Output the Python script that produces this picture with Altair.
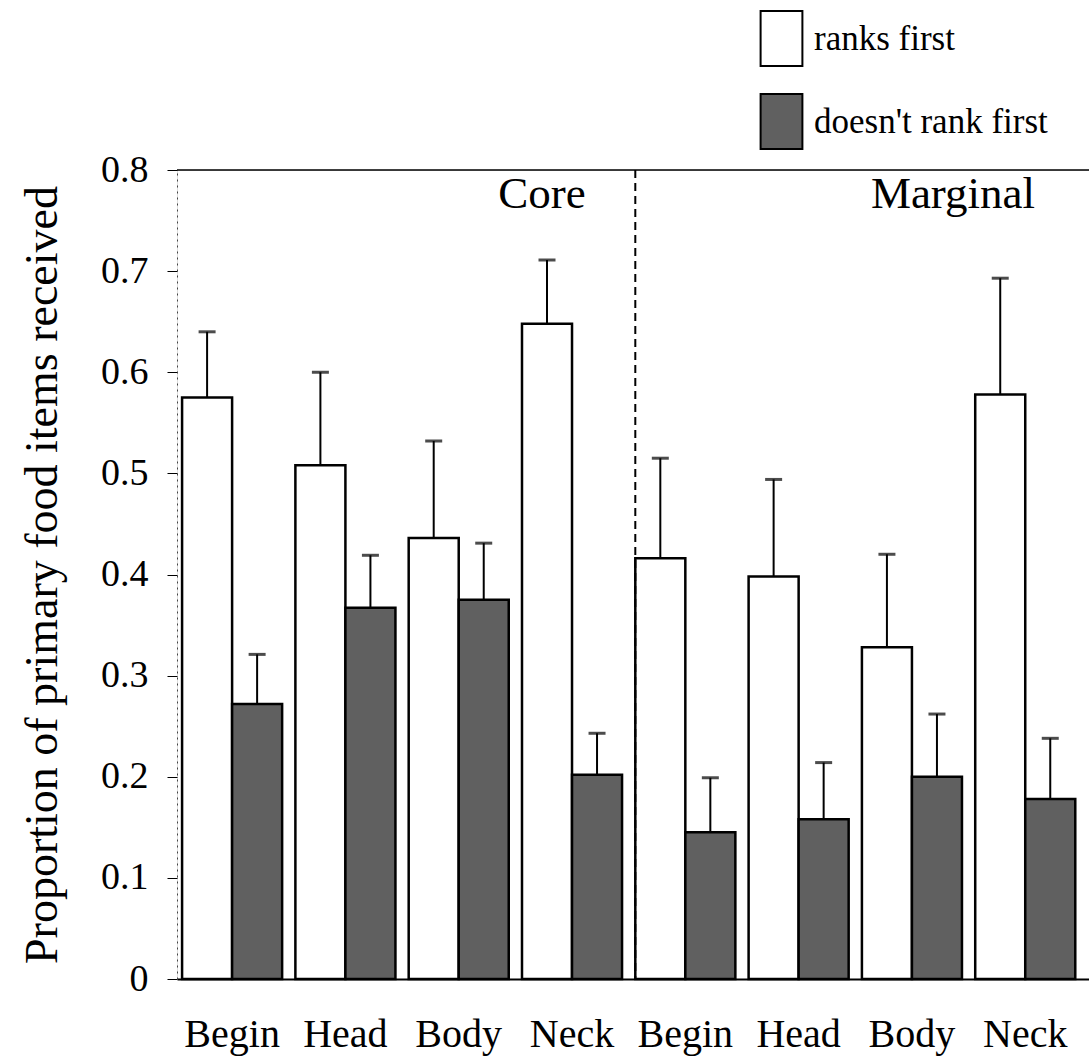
import altair as alt
import pandas as pd

regions = ["Core", "Marginal"]
positions = ["Begin", "Head", "Body", "Neck"]
series = ["ranks first", "doesn't rank first"]

ranks_first = [0.575, 0.508, 0.436, 0.648, 0.416, 0.398, 0.328, 0.578]
ranks_first_top = [0.640, 0.600, 0.532, 0.711, 0.515, 0.494, 0.420, 0.693]
not_first = [0.272, 0.367, 0.375, 0.202, 0.145, 0.158, 0.200, 0.178]
not_first_top = [0.321, 0.419, 0.431, 0.243, 0.199, 0.214, 0.262, 0.238]

y_ticks = [0, 0.1, 0.2, 0.3, 0.4, 0.5, 0.6, 0.7, 0.8]

keys = [f"{r}|{p}" for r in regions for p in positions]

rows = []
for i, k in enumerate(keys):
    rows.append({"key": k, "series": series[0], "value": ranks_first[i], "top": ranks_first_top[i]})
    rows.append({"key": k, "series": series[1], "value": not_first[i], "top": not_first_top[i]})
df = pd.DataFrame(rows)

FONT = "Liberation Serif"

xscale = alt.Scale(domain=keys, paddingInner=0.117, paddingOuter=0.083, align=0.27)
xoff = alt.XOffset("series:N", scale=alt.Scale(domain=series, paddingInner=0, paddingOuter=0))
yscale = alt.Scale(domain=[0, 0.8], nice=False, zero=True)

X = alt.X("key:N", scale=xscale,
          axis=alt.Axis(title=None, labelAngle=0, ticks=False,
                        labelExpr="split(datum.label, '|')[1]",
                        labelFont=FONT, labelFontSize=40, labelColor="black",
                        labelPadding=35, domainColor="black", domainWidth=2))
Y = alt.Y("value:Q", scale=yscale,
          axis=alt.Axis(title="Proportion of primary food items received",
                        values=y_ticks, format=".1~f", grid=False,
                        labelFont=FONT, labelFontSize=38, labelColor="black",
                        labelPadding=19, tickSize=10, tickColor="black", tickWidth=1,
                        domainColor="#444", domainWidth=1, domainDash=[2, 4],
                        titleFont=FONT, titleFontSize=46, titleFontWeight="normal",
                        titleColor="black", titlePadding=34))

bars = alt.Chart(df).mark_bar(stroke="black", strokeWidth=2.5).encode(
    x=X, xOffset=xoff, y=Y,
    fill=alt.Fill("series:N", scale=alt.Scale(domain=series, range=["white", "#606060"]),
                  legend=alt.Legend(title=None, orient="none", legendX=576, legendY=-160,
                                    symbolType="M-0.76,-1L0.76,-1L0.76,1L-0.76,1Z",
                                    symbolSize=3025, symbolStrokeColor="black",
                                    symbolStrokeWidth=2, labelFont=FONT, labelFontSize=35,
                                    labelColor="black", labelOffset=4, rowPadding=20,
                                    padding=0, labelLimit=400))
)

stems = alt.Chart(df).mark_rule(color="black", strokeWidth=2).encode(
    x="key:N", xOffset=xoff, y="value:Q", y2="top:Q"
)
caps = alt.Chart(df).mark_tick(color="black", size=17, thickness=3, orient="horizontal").encode(
    x="key:N", xOffset=xoff, y="top:Q"
)

ann = pd.DataFrame({"key": ["Core|Neck", "Marginal|Body"],
                    "series": [series[0], series[1]],
                    "label": ["Core", "Marginal"],
                    "value": [0.8, 0.8]})
texts_core = alt.Chart(ann.iloc[[0]]).mark_text(font=FONT, fontSize=45, baseline="top",
                                                 dy=2, dx=-5, color="black").encode(
    x="key:N", xOffset=xoff, y="value:Q", text="label:N")
texts_marg = alt.Chart(ann.iloc[[1]]).mark_text(font=FONT, fontSize=45, baseline="top",
                                                 dy=2, dx=16, color="black").encode(
    x="key:N", xOffset=xoff, y="value:Q", text="label:N")

divider = alt.Chart(pd.DataFrame({"key": ["Marginal|Begin"]})).mark_rule(
    color="black", strokeWidth=2, strokeDash=[8, 5]).encode(
    x=alt.X("key:N", bandPosition=0)
)
topline = alt.Chart(pd.DataFrame({"value": [y_ticks[-1]]})).mark_rule(
    color="black", strokeWidth=1.5).encode(y="value:Q")

chart = alt.layer(bars, stems, caps, divider, topline, texts_core, texts_marg).properties(
    width=912, height=809,
    autosize=alt.AutoSizeParams(type="none"),
    padding={"left": 177, "top": 170, "right": 0, "bottom": 83},
).configure_view(stroke=None).configure(background="white")

chart.save("out.html", embed_options={"renderer": "svg", "actions": False})
